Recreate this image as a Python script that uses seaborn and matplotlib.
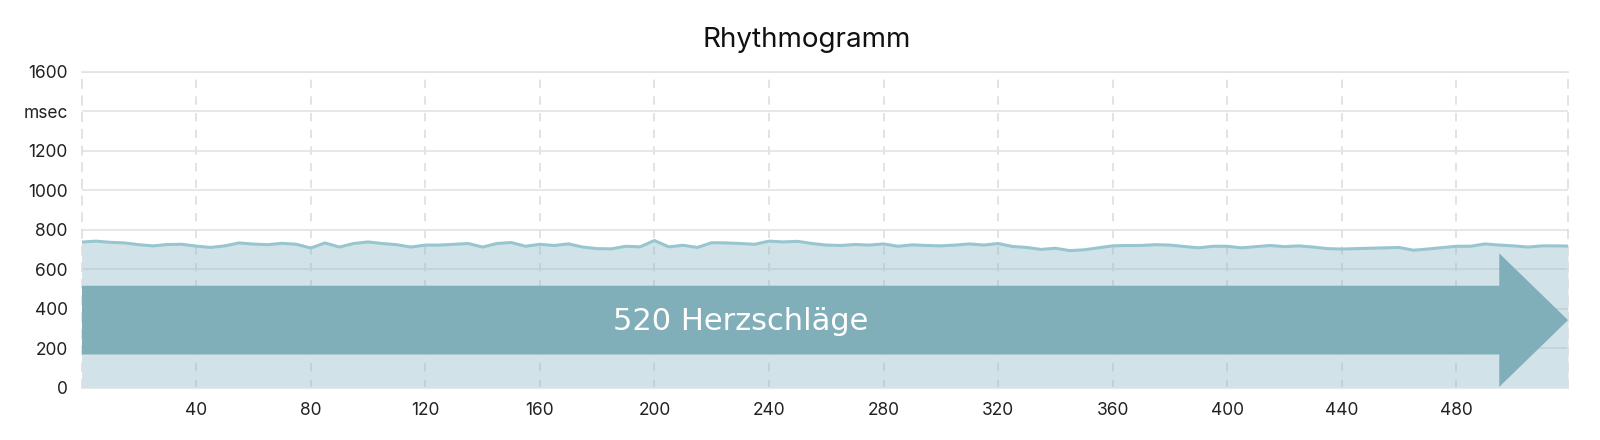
import numpy as np
import pandas as pd
import seaborn as sns
import matplotlib.pyplot as plt

# RR intervals (msec), read every 5th beat off the reference
beat = list(range(0, 520, 5)) + [519]
rr = [737, 742, 736, 733, 724, 718, 725, 726, 717, 710,
      718, 733, 727, 724, 731, 726, 707, 733, 712, 730,
      738, 730, 724, 712, 722, 722, 726, 730, 712, 730,
      735, 716, 726, 720, 728, 712, 704, 703, 716, 713,
      745, 713, 721, 710, 734, 733, 730, 726, 742, 738,
      741, 730, 722, 720, 725, 722, 728, 716, 723, 720,
      718, 722, 728, 722, 730, 715, 710, 700, 706, 694,
      698, 708, 718, 720, 720, 724, 722, 715, 708, 716,
      716, 708, 714, 720, 714, 718, 712, 704, 702, 704,
      706, 708, 710, 696, 702, 709, 716, 716, 728, 722,
      718, 712, 718, 718, 717]

n_beats = 520
y_ticks = [0, 200, 400, 600, 800, 1000, 1200, 1400, 1600]
y_labels = ["0", "200", "400", "600", "800", "1000", "1200", "msec", "1600"]
x_ticks = [40, 80, 120, 160, 200, 240, 280, 320, 360, 400, 440, 480]

df = pd.DataFrame({"beat": beat, "rr": rr})

sns.set_style("white")
plt.rcParams["font.family"] = ["Inter", "DejaVu Sans"]

fig = plt.figure(figsize=(16, 4.4), dpi=100)
ax = fig.add_axes([0.051, 0.119, 0.929, 0.718])

ax.fill_between(df["beat"], df["rr"], 0, color="#8cbac6", alpha=0.4,
                linewidth=0, zorder=2)
sns.lineplot(data=df, x="beat", y="rr", ax=ax, color="#98c6cf",
             linewidth=2.2, zorder=3)

# arrow with beat count
ax.arrow(0, 342, n_beats - 1, 0, width=348, head_width=676, head_length=24,
         length_includes_head=True, color="#80aeb9", linewidth=0, zorder=4)
ax.text(230, 333, f"{n_beats} Herzschläge", ha="center", va="center",
        fontsize=22, color="white", family="DejaVu Sans", zorder=5)

ax.set_xlim(0, n_beats - 1)
ax.set_ylim(0, 1600)
ax.set_yticks(y_ticks)
ax.set_yticklabels(y_labels)
ax.set_xticks(x_ticks)
ax.tick_params(axis="both", length=0, labelsize=12.5, colors="#222222")
ax.tick_params(axis="y", pad=10)
ax.tick_params(axis="x", pad=10)
ax.set_xlabel("")
ax.set_ylabel("")

ax.grid(axis="y", color="#e3e3e3", linewidth=1.2, zorder=1)
ax.grid(axis="x", color="#dedede", linewidth=1.2, linestyle=(0, (5, 5)), zorder=1)
ax.set_axisbelow(True)
for side in ["left", "right"]:
    ax.spines[side].set_color("#dedede")
    ax.spines[side].set_linestyle((0, (5, 5)))
    ax.spines[side].set_linewidth(1.2)
for side in ["top", "bottom"]:
    ax.spines[side].set_color("#e3e3e3")
    ax.spines[side].set_linewidth(1.2)

fig.text(0.504, 0.909, "Rhythmogramm", ha="center", va="center",
         fontsize=20, color="#111111")

fig.savefig("out.png", dpi=100)
